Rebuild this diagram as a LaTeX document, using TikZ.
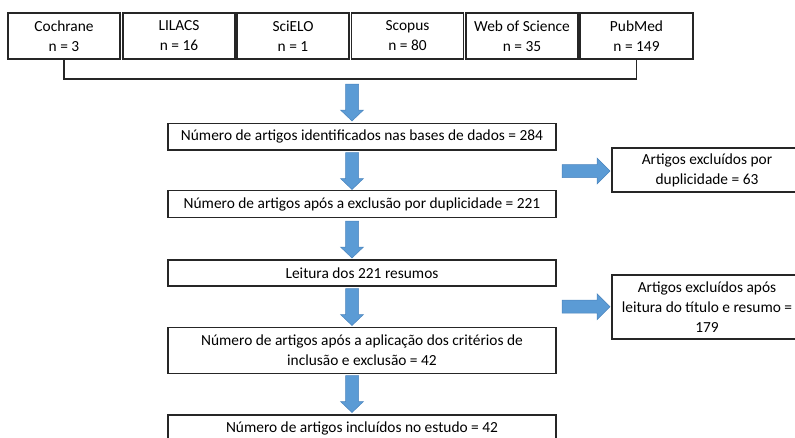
\documentclass[tikz,border=0pt]{standalone}
\usepackage{fontspec}
\setmainfont{Carlito}
\definecolor{arrblue}{HTML}{5B9BD5}
\definecolor{arredge}{HTML}{4A84BD}
\definecolor{linegray}{HTML}{262626}
\begin{document}
\begin{tikzpicture}[x=1pt,y=-1pt,
  box/.style={draw=linegray, line width=1.3pt, fill=white, align=center, inner sep=0pt,
    font=\fontsize{15.4}{20}\selectfont},
  arr/.style={fill=arrblue, draw=arredge, line width=0.5pt},
  downarr/.pic={\path[arr] (-6.5,0) -- (6.5,0) -- (6.5,26) -- (11.5,26) -- (0,37) -- (-11.5,26) -- (-6.5,26) -- cycle;},
  rightarr/.pic={\path[arr] (0,-6.5) -- (35,-6.5) -- (35,-13) -- (48,0) -- (35,13) -- (35,6.5) -- (0,6.5) -- cycle;},
  conn/.style={draw=linegray, line width=1.3pt}
]
\useasboundingbox (0,0) rectangle (795,437);
\clip (0,0) rectangle (795,437);

% database boxes
\node[box, minimum width=112, minimum height=46] (cochrane) at (64,36) {Cochrane\\n = 3};
\node[box, minimum width=112, minimum height=46] (lilacs) at (179,36) {LILACS\\n = 16};
\node[box, minimum width=112, minimum height=46] (scielo) at (293,36) {SciELO\\n = 1};
\node[box, minimum width=112, minimum height=46] (scopus) at (407.5,36) {Scopus\\n = 80};
\node[box, minimum width=112, minimum height=46] (wos) at (522,36) {Web of Science\\n = 35};
\node[box, minimum width=113, minimum height=46] (pubmed) at (636.5,36) {PubMed\\n = 149};

% bracket connector
\coordinate (bar) at (0,79);
\draw[conn] (cochrane.south) -- (cochrane.south |- bar) -| (pubmed.south);

% main flow boxes
\node[box, minimum width=388, minimum height=26.7] (b1) at (362,136.7) {Número de artigos identificados nas bases de dados = 284};
\node[box, minimum width=388, minimum height=26.7] (b2) at (362,204) {Número de artigos após a exclusão por duplicidade = 221};
\node[box, minimum width=388, minimum height=26] (b3) at (362,273) {Leitura dos 221 resumos};
\node[box, minimum width=388, minimum height=45.7] (b4) at (362,350.5) {Número de artigos após a aplicação dos critérios de\\inclusão e exclusão = 42};
\node[box, minimum width=388, minimum height=26.7] (b5) at (362,428.3) {Número de artigos incluídos no estudo = 42};

% side boxes
\node[box, minimum width=190, minimum height=44] (ex1) at (707,170) {Artigos excluídos por\\duplicidade = 63};
\node[box, minimum width=190, minimum height=64] (ex2) at (707,307) {Artigos excluídos após\\leitura do título e resumo =\\179};

% blue arrows
\pic at (352,84) {downarr};
\pic at (352,152.5) {downarr};
\pic at (352,221) {downarr};
\pic at (352,288.5) {downarr};
\pic at (352,375.5) {downarr};
\pic at (562,171) {rightarr};
\pic at (562,306.7) {rightarr};
\end{tikzpicture}
\end{document}
